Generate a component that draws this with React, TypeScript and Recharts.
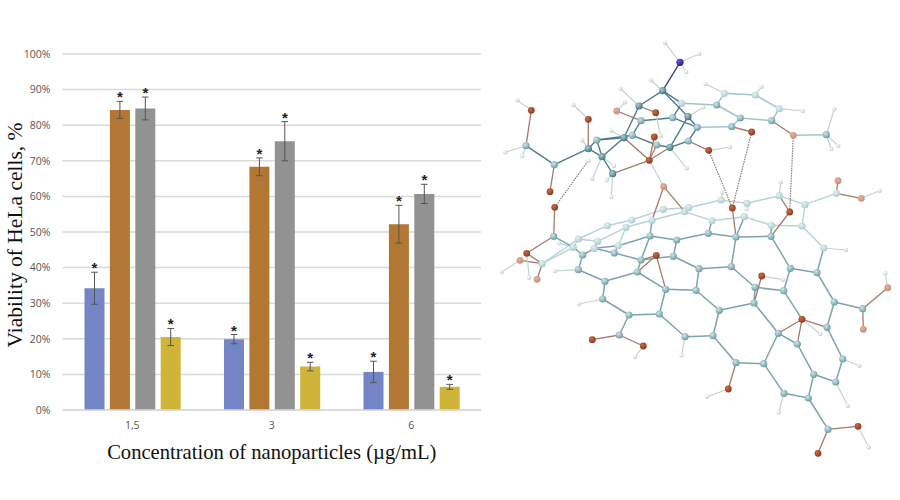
import React from "react";
import { ComposedChart, ScatterChart, Bar, ErrorBar, LabelList, XAxis, YAxis, CartesianGrid, Scatter } from "recharts";

const categories = ["1,5", "3", "6"];
const blueValues = [34.2, 19.9, 10.7];
const brownValues = [84.3, 68.3, 52.2];
const grayValues = [84.7, 75.5, 60.7];
const yellowValues = [20.5, 12.2, 6.5];
const blueErrors = [4.5, 1.3, 3];
const brownErrors = [2.4, 2.5, 5.3];
const grayErrors = [3.2, 5.5, 2.7];
const yellowErrors = [2.4, 1.2, 0.7];
const yTicks = [0, 10, 20, 30, 40, 50, 60, 70, 80, 90, 100];

const barRows = categories.map((name, i) => ({
  name,
  blue: blueValues[i], brown: brownValues[i], gray: grayValues[i], yellow: yellowValues[i],
  blueErr: blueErrors[i], brownErr: brownErrors[i], grayErr: grayErrors[i], yellowErr: yellowErrors[i],
}));

// Molecule, picture units: [id, x, y]
type Atom = [string, number, number];
const carbonsDark: Atom[] = [
  ["a", 662.7, 90.7], ["b", 639, 106], ["c", 688, 116.7], ["p", 670, 147.3], ["r", 624, 137.7],
  ["u", 588.3, 148.7], ["v", 602, 156.7], ["w", 612.7, 173.7],
];
const carbonsMid: Atom[] = [
  ["d", 641, 120.7], ["e", 672.7, 117.7], ["n", 697.3, 127.3], ["o", 688.3, 141], ["q", 656.7, 145],
  ["s", 632.3, 135.3], ["t", 596.7, 140], ["x", 554.3, 164.7], ["y", 526, 145.7],
  ["l", 740.3, 118], ["m", 731.7, 126.7], ["k", 771.7, 120.7], ["g", 716.7, 105], ["z", 553.7, 236.3],
  ["me", 826.3, 134.7], ["b9", 771, 236.3], ["b10", 736, 237], ["b12", 708.3, 233.3], ["b15", 650, 236],
  ["b16", 676.7, 240], ["b20", 614.3, 253], ["b23", 582.7, 255],
  ["f1", 641, 260], ["f2", 673.3, 256.3], ["f3", 637.3, 272], ["f4", 665.7, 289.3], ["f5", 699, 268.7],
  ["f6", 731.3, 266.7], ["f7", 696, 290.3], ["f8", 719.3, 310.3], ["f9", 754, 303], ["f10", 755, 287.3],
  ["f11", 783.7, 290.7], ["f12", 790.3, 268.3], ["f13", 817, 272.7], ["f14", 834.3, 302], ["f15", 862.7, 308.7],
  ["f16", 827, 327.3], ["f17", 778.3, 333.3], ["f18", 797.3, 344], ["f19", 842.7, 359], ["f20", 835.7, 382],
  ["f21", 813.7, 374.3], ["f22", 808.3, 398], ["f23", 784, 393.3], ["f24", 763.7, 363.7], ["f25", 736, 362.7],
  ["f26", 713, 335.7], ["f27", 685, 336.7], ["f28", 659.3, 314], ["f29", 629, 315], ["f30", 602.7, 299],
  ["f31", 605, 281.3], ["f32", 578.3, 269.7], ["f33", 619.3, 335], ["f34", 828, 429.3],
];
const carbonsLight: Atom[] = [
  ["f", 681.7, 103.3], ["h", 724.3, 93.3], ["i", 755.3, 95], ["j", 779.3, 108.7],
  ["b1", 747, 203.3], ["b2", 721, 200], ["b3", 779.3, 195.7], ["b4", 805, 204.7], ["b5", 836.3, 193.3],
  ["b6", 802, 226], ["b7", 771.3, 225.3], ["b8", 744.3, 216.7], ["b11", 712, 220.7], ["b13", 684.7, 211.7],
  ["b14", 688.7, 207.7], ["b17", 663.3, 209.3], ["b18", 652, 220.3], ["b19", 631.7, 220], ["b21", 626, 227.3],
  ["b22", 597.7, 241.3], ["b24", 578.3, 239], ["b25", 618.3, 245.7], ["b26", 594.3, 248.3], ["b27", 573.3, 247.3],
  ["b28", 823.7, 248], ["b29", 607.3, 225.7], ["l1", 542.3, 263.7],
];
const oxygens: Atom[] = [
  ["oa", 655.7, 112.7], ["ob", 751.7, 132], ["oc", 708.7, 150.3], ["od", 654.3, 137], ["oe", 649.3, 160.3],
  ["of", 588.3, 119.3], ["og", 550, 191.7], ["oh", 531.3, 110.3], ["oi", 554.7, 207.3], ["oj", 526.7, 253.3],
  ["ok", 732.3, 208], ["ol", 789.7, 212], ["om", 656.3, 255.3], ["on", 761.7, 276], ["oo", 802, 319.3],
  ["op", 728.3, 389], ["oq", 592.3, 339.7], ["or", 643.3, 346], ["os", 858, 426.3], ["ot", 818, 453.3],
];
const oxygensFaded: Atom[] = [
  ["fa", 616.7, 111], ["fb", 793.3, 135.3], ["fc", 663.7, 186.7], ["fd", 838, 180.7], ["fe", 861.3, 198.3],
  ["ff", 887.7, 287.7], ["fg", 863.3, 329.3], ["fh", 537, 279.3], ["fi", 520, 260.3],
];
const nitrogens: Atom[] = [["N", 680, 62.3]];
const hydrogens: Atom[] = [
  ["h1", 665, 42.7], ["h2", 699.3, 54], ["h3", 686.3, 72], ["h4", 651, 80.3], ["h5", 620.7, 88.7],
  ["h6", 660.7, 136], ["h7", 625, 102.3], ["h8", 703.3, 107.3], ["h9", 705.7, 84], ["h10", 761.7, 86.7],
  ["h11", 803, 111], ["h12", 730, 147], ["h13", 686.7, 168.3], ["h14", 611.3, 130.7], ["h15", 582.3, 140.3],
  ["h16", 573.3, 104.7], ["h17", 614, 165.7], ["h18", 592.3, 178.7], ["h19", 606.7, 180.3], ["h20", 611.3, 197],
  ["h21", 505.3, 152.3], ["h22", 522.3, 156], ["h23", 517.3, 100.3], ["h24", 588.3, 160.7], ["h25", 834.3, 109],
  ["h26", 831.3, 149], ["h27", 838.3, 145.7], ["h28", 746.7, 209], ["h29", 722.3, 192.7], ["h30", 780.7, 182.3],
  ["h31", 879.7, 190.7], ["h32", 559, 243.3], ["h33", 846, 250], ["h34", 783, 279.7], ["h35", 885.3, 273.3],
  ["h36", 820.3, 334], ["h37", 859.3, 365.7], ["h38", 847.7, 406], ["h39", 778.7, 412.3], ["h40", 707.3, 396.7],
  ["h41", 681.7, 355.3], ["h42", 579, 304], ["h43", 555, 271], ["h44", 635, 357], ["h45", 868.7, 447.3],
  ["h46", 502, 272], ["h47", 529.3, 277.7],
];

const backPlateBonds = [
  "b27 b24", "b24 b29", "b29 b19", "b19 b17", "b17 b14", "b14 b2", "b2 b1", "b1 b3", "b3 b4", "b4 b5", "b4 b6",
  "b22 b21", "b21 b18", "b18 b13", "b13 b11", "b11 b8", "b8 b7", "b7 b6", "b6 b28", "b24 b22", "b25 b21", "l1 b24", "b27 l1",
];
const lowerPlateBonds = [
  "z b27", "b27 b23", "b23 b26", "b26 b22", "b26 b25", "b25 b15", "b15 b16", "b16 b12", "b12 b10", "b10 b9", "b9 b7", "b10 b8",
  "b18 b15", "b12 b11", "b25 b20", "b20 b26", "b20 f1", "f1 b15", "b16 f2", "f2 f1", "f2 f5",
  "f5 f6", "f6 b10", "f5 f7", "f7 f4", "f4 f3", "f3 f1", "f3 f31", "f31 f32", "f32 b23", "f31 f30", "f30 f29", "f29 f28", "f28 f4",
  "f7 f8", "f8 f9", "f9 f17", "f8 f26", "f26 f27", "f27 f28", "f6 f10", "f10 f9", "f10 f11", "f11 f12", "f12 f13", "f13 f14", "f14 f16",
  "f14 f15", "f12 b9", "f13 b28", "f11 oo", "f16 f19", "f19 f20", "f20 f21", "f21 f18", "f18 f17", "f17 f24",
  "f24 f25", "f25 f26", "f24 f23", "f23 f22", "f22 f21", "f22 f34", "f29 f33",
];
const upperRingBonds = ["f g", "g h", "h i", "i j", "j k", "k l", "l g", "l m", "m n", "me fb"];
const frontBonds = [
  "a b", "a c", "a f", "b r", "c p", "c n", "r v", "u t", "t v", "u v", "u x", "v w", "x y", "e d", "e f", "e n",
  "d s", "s t", "n o", "o p", "q s", "q p", "t r",
];
const oxygenBonds = [
  "b oa", "r oe", "q oe", "p oe", "od oe", "u of", "x og", "y oh", "o oc", "m ob", "d fa", "k fb", "w oe",
  "z oi", "z oj", "l1 oj", "l1 fh", "l1 fi", "ok b10", "b9 ol", "b3 ol", "f1 om", "f3 om", "f4 om", "f9 on",
  "f17 oo", "f18 oo", "f16 oo", "f25 op", "f33 oq", "f33 or", "f34 os", "f34 ot", "b5 fd", "b5 fe", "f15 ff", "f15 fg",
  "fc b13", "fc b18",
];
const nitrogenBonds = ["a N"];
const hydrogenBonds = [
  "N h1", "N h2", "N h3", "a h4", "b h5", "oa h6", "fa h7", "c h8", "h h9", "i h10", "j h11", "oc h12", "p h13", "r h14",
  "u h15", "of h16", "v h17", "v h18", "w h19", "w h20", "y h21", "y h22", "oh h23", "me h25", "me h26", "me h27", "b1 h28", "b2 h29",
  "b3 h30", "fe h31", "b27 h32", "b28 h33", "on h34", "ff h35", "oo h36", "f19 h37", "f20 h38", "f23 h39", "op h40", "f27 h41",
  "f30 h42", "f32 h43", "or h44", "os h45", "fi h46", "oj h47", "oe fc",
];
const dottedBonds = ["oc ok", "ob ok", "fb ol", "oi h24"];

const allAtoms = [...carbonsDark, ...carbonsMid, ...carbonsLight, ...oxygens, ...oxygensFaded, ...nitrogens, ...hydrogens];
const atomIndex = new Map(allAtoms.map((a) => [a[0], a]));
const toPoints = (list: Atom[]) => list.map((a) => ({ x: a[1], y: a[2] }));
const bondPoints = (bond: string) =>
  bond.split(" ").map((id) => {
    const a = atomIndex.get(id)!;
    return { x: a[1], y: a[2] };
  });

const noShape = () => <g />;
const sphere = (grad: string, r: number) => (p: any) => <circle cx={p.cx} cy={p.cy} r={r} fill={`url(#${grad})`} />;

const bondLayers: [string, string[], string, number, string?][] = [
  ["back", backPlateBonds, "#b9d2d6", 1.4],
  ["lower", lowerPlateBonds, "#7ea3ab", 1.5],
  ["upper", upperRingBonds, "#a4c4c9", 1.5],
  ["front", frontBonds, "#4f7d88", 1.4],
  ["oxygen", oxygenBonds, "#a5796b", 1.3],
  ["nitrogen", nitrogenBonds, "#3d4a7d", 1.4],
  ["hydrogen", hydrogenBonds, "#c5d2d4", 1.2],
  ["dotted", dottedBonds, "#8a7a78", 1.2, "1.5 1"],
];

const pxPerPercent = 3.56;
const star = (p: any) => (
  <text
    x={p.x + p.width / 2}
    y={p.y - p.value * pxPerPercent + 1}
    textAnchor="middle"
    fontFamily="'Liberation Sans'"
    fontWeight="bold"
    fontSize={15}
    fill="#222"
  >
    *
  </text>
);

const barSeries = [
  { key: "blue", err: "blueErr", color: "#7385c4" },
  { key: "brown", err: "brownErr", color: "#b17733" },
  { key: "gray", err: "grayErr", color: "#929292" },
  { key: "yellow", err: "yellowErr", color: "#d0b43a" },
];

const gradients = [
  ["cDark", "#a8cdd3", "#3d6f7a"],
  ["cMid", "#cfe6ea", "#66979f"],
  ["cLight", "#e4f1f3", "#a6c9ce"],
  ["oxy", "#c8704a", "#8a3417"],
  ["oxyFaded", "#e3b3a0", "#c48b77"],
  ["nit", "#6a55d8", "#26148c"],
  ["hyd", "#ffffff", "#c4c8c8"],
];

const serif = "'Liberation Serif'";

export default function App() {
  return (
    <div style={{ position: "absolute", left: 0, top: 0, width: 900, height: 500, background: "#fff" }}>
      <div style={{ position: "absolute", left: 0, top: 0 }}>
        <ComposedChart
          width={490}
          height={500}
          data={barRows}
          margin={{ top: 54, right: 9, bottom: 0, left: 0 }}
          barSize={20}
          barGap={5.4}
        >
          <CartesianGrid vertical={false} stroke="#d9d9d9" strokeWidth={1.5} />
          <XAxis
            dataKey="name"
            height={90}
            axisLine={{ stroke: "#d9d9d9", strokeWidth: 1.5 }}
            tickLine={false}
            tickMargin={6}
            tick={{ fontSize: 10.5, fontFamily: "'Open Sans'", fill: "#555" }}
            label={{
              value: "Concentration of nanoparticles  (µg/mL)",
              position: "insideBottom",
              offset: 41,
              style: { fontSize: 20.6, fontFamily: serif, fill: "#111", whiteSpace: "pre" },
            }}
          />
          <YAxis
            width={62.5}
            domain={[0, 100]}
            ticks={yTicks}
            axisLine={false}
            tickLine={false}
            tickMargin={6}
            tickFormatter={(v: number) => `${v}%`}
            tick={{ fontSize: 10.5, fontFamily: "'Open Sans'", fill: "#555" }}
            label={{
              value: "Viability of HeLa cells, %",
              angle: -90,
              position: "insideLeft",
              offset: 0,
              dx: 14,
              dy: 3,
              style: { fontSize: 21.5, fontFamily: serif, fill: "#111", textAnchor: "middle" },
            }}
          />
          {barSeries.map((s) => (
            <Bar key={s.key} dataKey={s.key} fill={s.color} isAnimationActive={false}>
              <ErrorBar dataKey={s.err} width={3.3} stroke="#555" strokeWidth={1} />
              <LabelList dataKey={s.err} content={star} />
            </Bar>
          ))}
        </ComposedChart>
      </div>
      <div style={{ position: "absolute", left: 0, top: 0 }}>
        <ScatterChart width={900} height={500} margin={{ top: 0, right: 0, bottom: 0, left: 0 }}>
          <defs>
            {gradients.map(([id, a, b]) => (
              <radialGradient key={id} id={id} cx="38%" cy="35%" r="70%">
                <stop offset="0%" stopColor={a} />
                <stop offset="100%" stopColor={b} />
              </radialGradient>
            ))}
          </defs>
          <XAxis type="number" dataKey="x" domain={[0, 900]} hide />
          <YAxis type="number" dataKey="y" domain={[0, 500]} reversed hide />
          {bondLayers.flatMap(([name, bonds, stroke, strokeWidth, dash]) =>
            bonds.map((b) => (
              <Scatter
                key={`${name}-${b}`}
                data={bondPoints(b)}
                line={{ stroke, strokeWidth, strokeDasharray: dash }}
                shape={noShape}
                isAnimationActive={false}
              />
            ))
          )}
          <Scatter data={toPoints(carbonsLight)} shape={sphere("cLight", 3.6)} isAnimationActive={false} />
          <Scatter data={toPoints(carbonsMid)} shape={sphere("cMid", 3.6)} isAnimationActive={false} />
          <Scatter data={toPoints(carbonsDark)} shape={sphere("cDark", 3.6)} isAnimationActive={false} />
          <Scatter data={toPoints(oxygensFaded)} shape={sphere("oxyFaded", 3.4)} isAnimationActive={false} />
          <Scatter data={toPoints(oxygens)} shape={sphere("oxy", 3.4)} isAnimationActive={false} />
          <Scatter data={toPoints(nitrogens)} shape={sphere("nit", 3.6)} isAnimationActive={false} />
          <Scatter data={toPoints(hydrogens)} shape={sphere("hyd", 2.2)} isAnimationActive={false} />
        </ScatterChart>
      </div>
    </div>
  );
}
